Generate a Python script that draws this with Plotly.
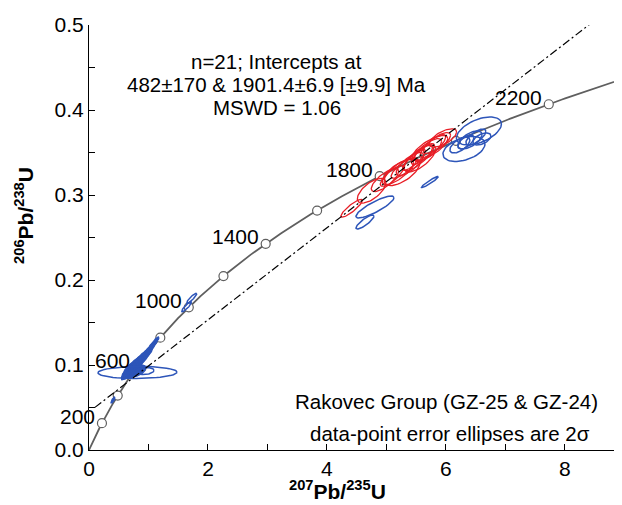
import numpy as np
import plotly.graph_objects as go

# decay constants (per Ma)
L235 = 9.8485e-4
L238 = 1.55125e-4

# concordia age markers / labels (Ma)
marker_ages = [200, 400, 600, 800, 1000, 1200, 1400, 1600, 1800, 2000, 2200]
label_ages = [200, 600, 1000, 1400, 1800, 2200]

# discordia intercepts (Ma)
lower_int = 482
upper_int = 1901.4

# red ellipses: 207Pb/235U, 206Pb/238U, 2s x, 2s y, rho
red_x = [4.415, 4.751, 4.975, 5.092, 5.193, 5.294, 5.395, 5.462, 5.529, 5.613, 5.697, 5.782, 5.849, 5.950, 5.563, 5.261, 5.731]
red_y = [0.2844, 0.3050, 0.3176, 0.3224, 0.3271, 0.3318, 0.3365, 0.3412, 0.3435, 0.3482, 0.3529, 0.3576, 0.3612, 0.3671, 0.3430, 0.3270, 0.3553]
red_sx = [0.180, 0.240, 0.230, 0.195, 0.265, 0.215, 0.230, 0.195, 0.245, 0.195, 0.230, 0.215, 0.230, 0.230, 0.265, 0.300, 0.300]
red_sy = [0.0105, 0.0145, 0.0135, 0.0122, 0.0148, 0.0122, 0.0135, 0.0122, 0.0148, 0.0122, 0.0135, 0.0135, 0.0122, 0.0108, 0.0160, 0.0160, 0.0148]
red_rho = [0.88, 0.65, 0.75, 0.8, 0.75, 0.8, 0.75, 0.85, 0.8, 0.8, 0.75, 0.8, 0.75, 0.65, 0.7, 0.65, 0.75]

# blue outline ellipses
blue_x = [6.555, 6.303, 6.403, 6.504, 6.336, 6.605, 6.235, 5.731, 4.807, 4.639, 1.726, 1.642, 0.815, 0.941]
blue_y = [0.3753, 0.3541, 0.3647, 0.3682, 0.3624, 0.3659, 0.3588, 0.3153, 0.2859, 0.2682, 0.1785, 0.1686, 0.0912, 0.0929]
blue_sx = [0.378, 0.353, 0.202, 0.168, 0.134, 0.151, 0.168, 0.143, 0.319, 0.151, 0.084, 0.084, 0.664, 0.151]
blue_sy = [0.0165, 0.0147, 0.0106, 0.0094, 0.0082, 0.0071, 0.0094, 0.0066, 0.0129, 0.0082, 0.0059, 0.0059, 0.0071, 0.0041]
blue_rho = [0.5, 0.4, 0.6, 0.7, 0.6, 0.5, 0.6, 0.95, 0.85, 0.85, 0.9, 0.9, 0.05, 0.2]

# blue small (filled-looking) ellipses near 400-800 Ma
bf_x = [1.126, 1.076, 1.025, 0.975, 0.908, 0.840, 0.773, 0.706, 0.655, 0.807, 0.605, 0.740, 0.403]
bf_y = [0.1290, 0.1240, 0.1190, 0.1140, 0.1090, 0.1040, 0.0995, 0.0950, 0.0905, 0.0930, 0.0870, 0.0925, 0.0588]
bf_sx = [0.050, 0.067, 0.075, 0.090, 0.110, 0.125, 0.140, 0.135, 0.110, 0.150, 0.060, 0.150, 0.034]
bf_sy = [0.0040, 0.0052, 0.0058, 0.0068, 0.0080, 0.0090, 0.0100, 0.0095, 0.0075, 0.0070, 0.0045, 0.0080, 0.0035]
bf_rho = [0.8, 0.8, 0.8, 0.75, 0.75, 0.75, 0.75, 0.7, 0.7, 0.5, 0.8, 0.6, 0.8]

BLUE = "rgb(45,85,185)"
RED = "rgb(232,30,38)"
GRAY = "rgb(95,95,95)"
FONT = "Arial, Liberation Sans, Helvetica, sans-serif"


def conc(t):
    t = np.asarray(t, dtype=float)
    return np.exp(L235 * t) - 1, np.exp(L238 * t) - 1


def ellipses(xs, ys, sxs, sys, rhos, n=60):
    th = np.linspace(0, 2 * np.pi, n)
    X, Y = [], []
    for cx, cy, sx, sy, r in zip(xs, ys, sxs, sys, rhos):
        ex = cx + sx * np.cos(th)
        ey = cy + sy * (r * np.cos(th) + np.sqrt(1 - r * r) * np.sin(th))
        X += list(ex) + [None]
        Y += list(ey) + [None]
    return X, Y


fig = go.Figure()

# concordia curve
tc = np.linspace(0, 2400, 400)
cx, cy = conc(tc)
fig.add_trace(go.Scatter(x=cx, y=cy, mode="lines", line=dict(color=GRAY, width=1.8),
                         hoverinfo="skip", showlegend=False))
mx, my = conc(marker_ages)
fig.add_trace(go.Scatter(x=mx, y=my, mode="markers",
                         marker=dict(size=9, color="white", line=dict(color=GRAY, width=1.2)),
                         showlegend=False))

# ellipses
X, Y = ellipses(bf_x, bf_y, bf_sx, bf_sy, bf_rho)
fig.add_trace(go.Scatter(x=X, y=Y, mode="lines", fill="toself", fillcolor=BLUE,
                         line=dict(color=BLUE, width=1.3), showlegend=False))
X, Y = ellipses(blue_x, blue_y, blue_sx, blue_sy, blue_rho)
fig.add_trace(go.Scatter(x=X, y=Y, mode="lines", line=dict(color=BLUE, width=1.5), showlegend=False))
X, Y = ellipses(red_x, red_y, red_sx, red_sy, red_rho)
fig.add_trace(go.Scatter(x=X, y=Y, mode="lines", line=dict(color=RED, width=1.3), showlegend=False))

# discordia
lx, ly = conc([lower_int, upper_int])
slope = (ly[1] - ly[0]) / (lx[1] - lx[0])
dx = np.array([0.1, 8.45])
dy = ly[0] + slope * (dx - lx[0])
fig.add_trace(go.Scatter(x=dx, y=dy, mode="lines",
                         line=dict(color="black", width=1.2, dash="8px,3px,2px,3px"),
                         showlegend=False))

# concordia age labels
lxs, lys = conc(label_ages)
for a, x0, y0 in zip(label_ages, lxs, lys):
    fig.add_annotation(x=x0, y=y0, text=str(a), showarrow=False, xanchor="right", yanchor="middle",
                       xshift=-5, yshift=7, font=dict(size=21, color="black", family=FONT))

texts = [("n=21; Intercepts at", 0.3527, 0.913),
         ("482±170 & 1901.4±6.9 [±9.9] Ma", 0.3527, 0.859),
         ("MSWD = 1.06", 0.3527, 0.805),
         ("Rakovec Group (GZ-25 & GZ-24)", 0.670, 0.113),
         ("data-point error ellipses are 2σ", 0.677, 0.040)]
for t, px, py in texts:
    fig.add_annotation(x=px, y=py, xref="paper", yref="paper", text=t, showarrow=False,
                       xanchor="center", yanchor="middle", font=dict(size=20.5, color="black", family=FONT))

fig.add_annotation(x=-0.122, y=0.553, xref="paper", yref="paper", textangle=-90,
                   xanchor="center", yanchor="middle",
                   text="<b><sup>206</sup>Pb/<sup>238</sup>U</b>", showarrow=False,
                   font=dict(size=21, color="black", family=FONT))
fig.add_annotation(x=0.467, y=-0.094, xref="paper", yref="paper",
                   xanchor="center", yanchor="middle",
                   text="<b><sup>207</sup>Pb/<sup>235</sup>U</b>", showarrow=False,
                   font=dict(size=21, color="black", family=FONT))

fig.update_layout(
    width=614, height=497,
    margin=dict(l=81, r=0, t=17, b=55, autoexpand=False),
    plot_bgcolor="white", paper_bgcolor="white",
    font=dict(family=FONT, size=21, color="black"),
    xaxis=dict(range=[0, 8.96], dtick=2, tick0=0, ticks="inside", ticklen=6, tickcolor="black",
               showline=True, linecolor="black", linewidth=1.2, showgrid=False, zeroline=False,
               minor=dict(dtick=1, ticks="inside", ticklen=6, tickcolor="black"),
               tickfont=dict(size=21)),
    yaxis=dict(range=[0, 0.5], dtick=0.1, tick0=0, tickformat=".1f", ticks="inside", ticklen=6,
               tickcolor="black", showline=True, linecolor="black", linewidth=1.2, showgrid=False,
               zeroline=False, minor=dict(dtick=0.05, ticks="inside", ticklen=6, tickcolor="black"),
               tickfont=dict(size=21)),
)

fig.write_html("out.html")
